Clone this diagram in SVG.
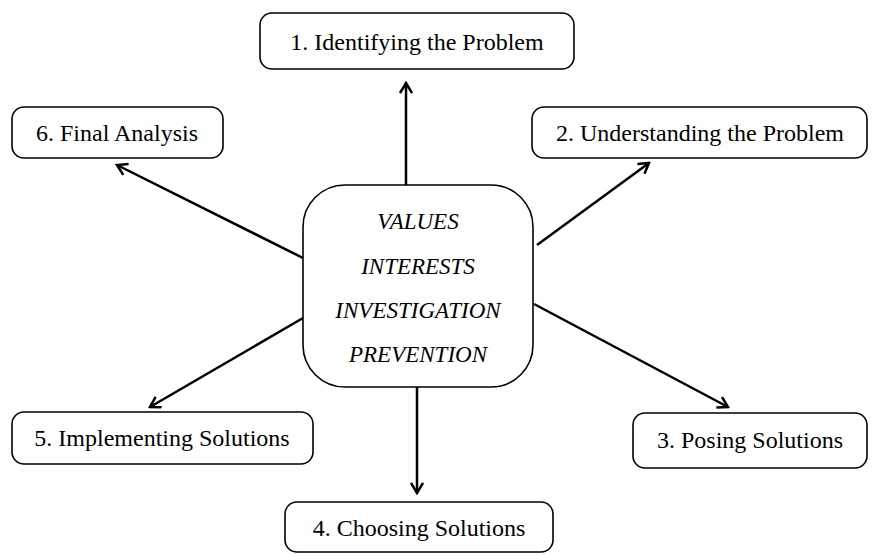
<svg xmlns="http://www.w3.org/2000/svg" width="872" height="555" viewBox="0 0 872 555">
<defs>
<marker id="arr" markerWidth="14" markerHeight="14" refX="12" refY="7" orient="auto" markerUnits="userSpaceOnUse">
<path d="M2,1 L12,7 L2,13" fill="none" stroke="#000" stroke-width="2.5" stroke-linejoin="miter"/>
</marker>
<style>
.box{fill:#fff;stroke:#000;stroke-width:1.6}
.lbl{font-family:"Liberation Serif",serif;font-size:24px;fill:#000;text-anchor:middle}
.ctr{font-family:"Liberation Serif",serif;font-size:23px;font-style:italic;fill:#000;text-anchor:middle}
.con{stroke:#000;stroke-width:2.5;fill:none;marker-end:url(#arr)}
</style>
</defs>
<rect width="872" height="555" fill="#fff"/>
<g id="connectors">
<line class="con" x1="406" y1="185" x2="406" y2="83"/>
<line class="con" x1="537" y1="245" x2="649" y2="163"/>
<line class="con" x1="534" y1="304" x2="728" y2="407"/>
<line class="con" x1="417" y1="387" x2="417" y2="493"/>
<line class="con" x1="303" y1="318" x2="150" y2="407"/>
<line class="con" x1="303" y1="258" x2="117" y2="165"/>
</g>
<g id="center">
<rect class="box" x="303" y="185" width="230" height="202" rx="42"/>
<text class="ctr" x="418" y="229">VALUES</text>
<text class="ctr" x="418" y="274">INTERESTS</text>
<text class="ctr" x="418" y="318">INVESTIGATION</text>
<text class="ctr" x="418" y="362">PREVENTION</text>
</g>
<g id="n1">
<rect class="box" x="260" y="13" width="314" height="56" rx="12"/>
<text class="lbl" x="417" y="50">1. Identifying the Problem</text>
</g>
<g id="n2">
<rect class="box" x="532" y="107" width="335" height="51" rx="12"/>
<text class="lbl" x="700" y="141">2. Understanding the Problem</text>
</g>
<g id="n3">
<rect class="box" x="633" y="413" width="234" height="55" rx="12"/>
<text class="lbl" x="750" y="448">3. Posing Solutions</text>
</g>
<g id="n4">
<rect class="box" x="285" y="502" width="268" height="50" rx="12"/>
<text class="lbl" x="419" y="536">4. Choosing Solutions</text>
</g>
<g id="n5">
<rect class="box" x="12" y="412" width="301" height="52" rx="12"/>
<text class="lbl" x="162" y="446">5. Implementing Solutions</text>
</g>
<g id="n6">
<rect class="box" x="12" y="107" width="211" height="51" rx="12"/>
<text class="lbl" x="117" y="141">6. Final Analysis</text>
</g>
</svg>
